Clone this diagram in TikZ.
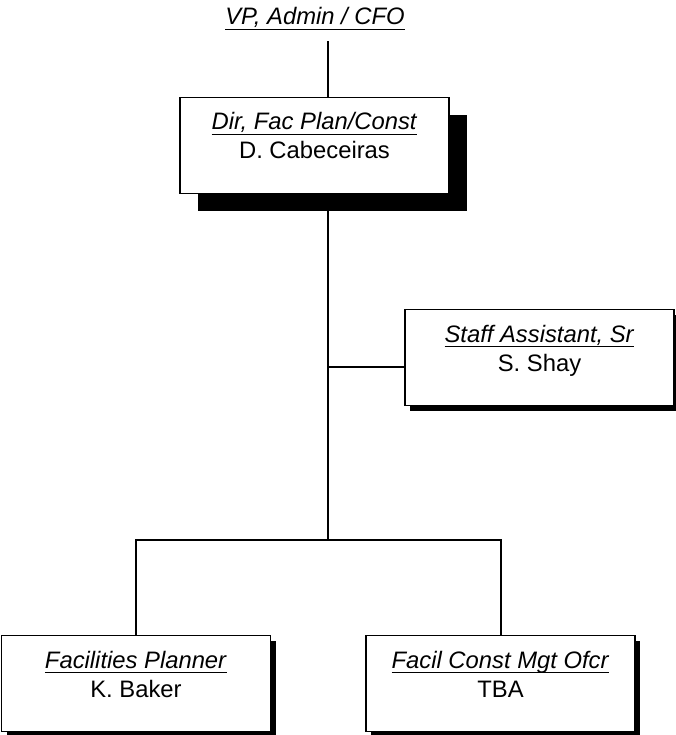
\documentclass[tikz,border=0pt]{standalone}
\usepackage{fontspec}
\setmainfont{Liberation Sans}
\usetikzlibrary{positioning, shadows}

\newcommand{\chartfont}{\fontsize{23.8}{29}\selectfont}
\newsavebox{\titlebox}
\newcommand{\jobtitle}[1]{\sbox{\titlebox}{\textit{#1}}\rlap{\raisebox{-5pt}{\rule{\wd\titlebox}{1.4pt}}}\usebox{\titlebox}}

\begin{document}
\begin{tikzpicture}[
    x=1pt, y=-1pt,
    box/.style={rectangle, draw, line width=1.5pt, fill=white, minimum width=269pt, minimum height=96pt, align=center, font=\chartfont, inner ysep=14pt, text height=47pt, text depth=20pt, general shadow={fill=black, shadow xshift=#1, shadow yshift=-#1}},
    box/.default=5pt,
    link/.style={line width=2pt}
]
\useasboundingbox (0,0) rectangle (676,735);

\node[font=\chartfont, inner sep=0pt, anchor=base] (vp) at (315,25) {\jobtitle{VP, Admin / CFO}};
\node[box=18pt] (dir) at (314.5,145.5) {\jobtitle{Dir, Fac Plan/Const}\\D. Cabeceiras};
\node[box] (staff) at (539.5,357.5) {\jobtitle{Staff Assistant, Sr}\\S. Shay};
\node[box] (planner) at (136,683.5) {\jobtitle{Facilities Planner}\\K. Baker};
\node[box] (constr) at (500.5,683.5) {\jobtitle{Facil Const Mgt Ofcr}\\TBA};

% trunk and branch points
\coordinate (tap) at (328,367);
\coordinate (branch) at (328,540);

\draw[link, shorten <=11pt] (vp.south -| tap) -- (dir.north -| tap);
\draw[link] (dir.south -| tap) -- (branch);
\draw[link] (tap) -- (tap -| staff.west);
\draw[link] (planner.north) |- (branch) -| (constr.north);
\end{tikzpicture}
\end{document}
